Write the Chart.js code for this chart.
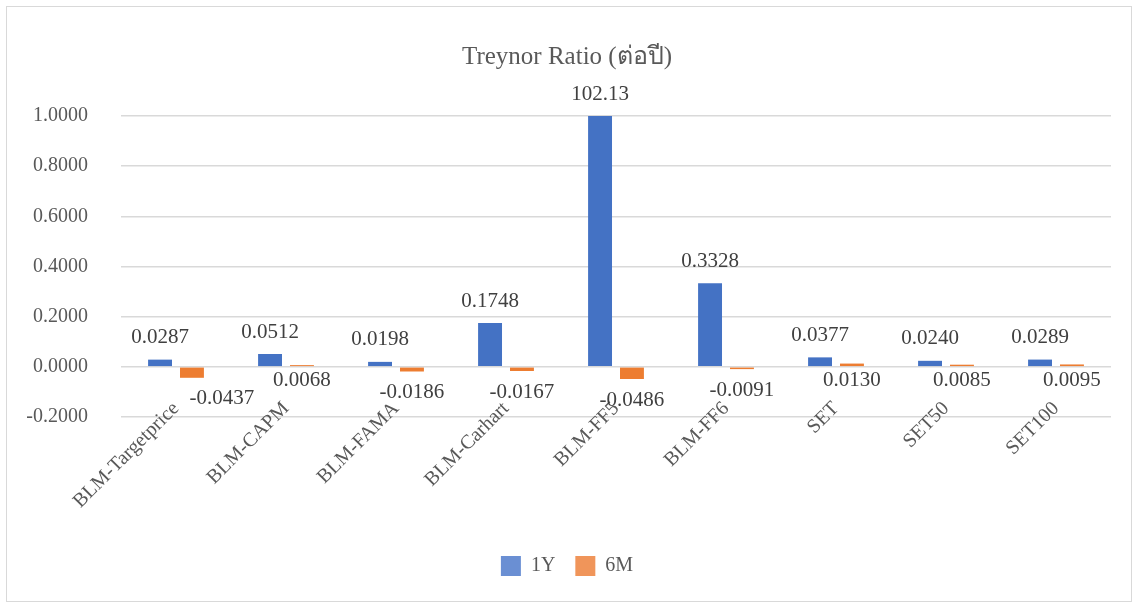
<!DOCTYPE html>
<html>
<head>
<meta charset="utf-8">
<script src="https://cdn.jsdelivr.net/npm/chart.js@4.4.1/dist/chart.umd.min.js"></script>
<style>
  html, body { margin: 0; padding: 0; background: #fff; }
  #box {
    position: absolute; left: 6px; top: 6px;
    width: 1124px; height: 594px;
    border: 1px solid #d9d9d9;
  }
</style>
</head>
<body>
<div id="box"><canvas id="chart"></canvas></div>
<script>
/* ── Data ─────────────────────────────────────────────── */

var categories = ['BLM-Targetprice', 'BLM-CAPM', 'BLM-FAMA', 'BLM-Carhart',
                  'BLM-FF5', 'BLM-FF6', 'SET', 'SET50', 'SET100'];
var values1Y = [0.0287, 0.0512, 0.0198, 0.1748, 102.13, 0.3328, 0.0377, 0.0240, 0.0289];
var values6M = [-0.0437, 0.0068, -0.0186, -0.0167, -0.0486, -0.0091, 0.0130, 0.0085, 0.0095];
var yTicks = [-0.2, 0, 0.2, 0.4, 0.6, 0.8, 1.0];

/* ── Styles ───────────────────────────────────────────── */

var blue   = '#4472c4';
var orange = '#ed7d31';
var textGray = '#595959';
var serif = '"Liberation Serif", "Times New Roman", serif';

/* Value labels above 1Y bars, below 6M bars */
var valueLabels = {
  id: 'valueLabels',
  afterDatasetsDraw: function (chart) {
    var ctx = chart.ctx;
    var area = chart.chartArea;
    var zero = chart.scales.y.getPixelForValue(0);
    ctx.save();
    ctx.font = '21px ' + serif;
    ctx.fillStyle = '#404040';
    ctx.textAlign = 'center';
    ctx.textBaseline = 'middle';
    chart.data.datasets.forEach(function (ds, di) {
      chart.getDatasetMeta(di).data.forEach(function (bar, i) {
        var v = ds.data[i];
        var txt = v > 10 ? v.toFixed(2) : v.toFixed(4);
        var x = bar.x;
        var y;
        if (di === 0) {
          y = Math.max(Math.min(bar.y, zero), area.top) - 22;
        } else {
          y = v < 0 ? bar.y + 21 : zero + 14;
          // first label is pushed right, clear of the category text
          if (i === 0) x += 30;
        }
        ctx.fillText(txt, x, y);
      });
    });
    ctx.restore();
  }
};

new Chart(document.getElementById('chart'), {
  type: 'bar',
  data: {
    labels: categories,
    datasets: [
      { label: '1Y', data: values1Y, backgroundColor: blue },
      { label: '6M', data: values6M, backgroundColor: orange }
    ]
  },
  options: {
    responsive: true,
    maintainAspectRatio: false,
    animation: false,
    datasets: { bar: { categoryPercentage: 0.58, barPercentage: 0.75 } },
    layout: { autoPadding: false, padding: { left: 16, right: 20, top: 0, bottom: 15 } },
    plugins: {
      title: {
        display: true,
        text: 'Treynor Ratio (ต่อปี)',
        color: textGray,
        font: { family: serif, size: 25, weight: 'normal' },
        padding: { top: 35, bottom: 44 }
      },
      legend: {
        position: 'bottom',
        labels: {
          color: textGray,
          font: { family: serif, size: 20 },
          boxWidth: 20,
          boxHeight: 20,
          padding: 20,
          generateLabels: function (chart) {
            var faded = ['#6a8fd3', '#f0955a'];
            return chart.data.datasets.map(function (ds, i) {
              return {
                text: ds.label,
                fillStyle: faded[i],
                strokeStyle: faded[i],
                lineWidth: 0,
                fontColor: textGray,
                datasetIndex: i
              };
            });
          }
        }
      },
      tooltip: { enabled: false }
    },
    scales: {
      x: {
        grid: { display: false },
        border: { display: false },
        afterFit: function (axis) {
          axis.height = 119;
          axis.paddingLeft = 0;
          axis.paddingRight = 0;
          // category labels sit partly over the plot, as in the original
          axis._computeLabelArea = function () { return undefined; };
        },
        ticks: {
          color: textGray,
          font: { family: serif, size: 20 },
          autoSkip: false,
          minRotation: 45,
          maxRotation: 45,
          padding: -28
        }
      },
      y: {
        min: -0.2,
        max: 1.0,
        afterBuildTicks: function (axis) {
          axis.ticks = yTicks.map(function (v) { return { value: v }; });
        },
        afterFit: function (axis) {
          axis.width = 98;
        },
        grid: { color: '#d9d9d9', lineWidth: 1.5, drawTicks: false },
        border: { display: false },
        ticks: {
          color: textGray,
          font: { family: serif, size: 20 },
          padding: 33,
          callback: function (v) {
            if (Math.abs(v) < 1e-9) v = 0;
            return v.toFixed(4);
          }
        }
      }
    }
  },
  plugins: [valueLabels]
});
</script>
</body>
</html>
